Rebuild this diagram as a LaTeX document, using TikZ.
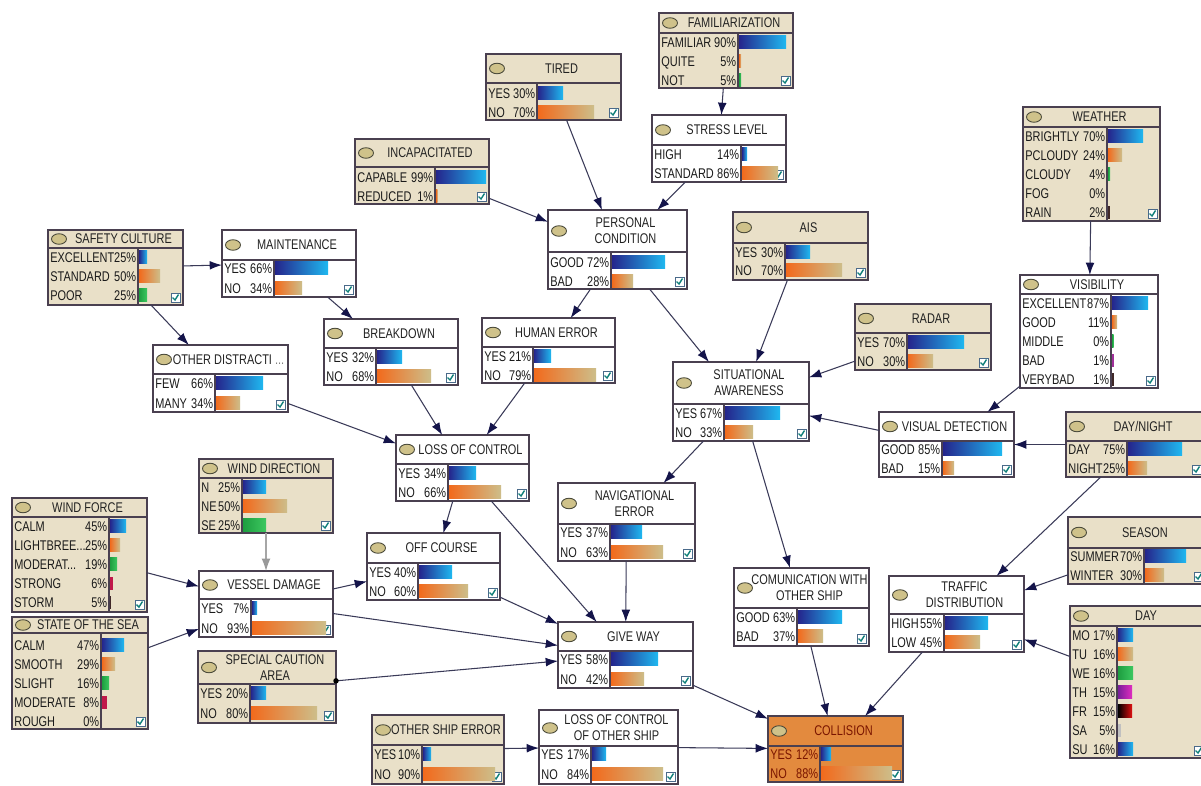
\documentclass[tikz,border=0pt]{standalone}
\usepackage{fontspec}
\setmainfont{Liberation Sans}[FakeStretch=0.78]
\usetikzlibrary{arrows.meta}
\definecolor{beige}{HTML}{E9E0C8}
\definecolor{framec}{HTML}{4A4050}
\definecolor{ovalc}{HTML}{CFC28A}
\definecolor{ovald}{HTML}{4A4A3A}
\definecolor{titlec}{HTML}{222222}
\definecolor{labc}{HTML}{1A1A1A}
\definecolor{bl1}{HTML}{25258C}
\definecolor{bl2}{HTML}{1FB8F0}
\definecolor{or1}{HTML}{F26A1C}
\definecolor{or2}{HTML}{CDBE8A}
\definecolor{gr1}{HTML}{1E9E40}
\definecolor{gr2}{HTML}{3CC860}
\definecolor{redc}{HTML}{C0184A}
\definecolor{darkc}{HTML}{402828}
\definecolor{purc}{HTML}{A0309A}
\definecolor{mag1}{HTML}{7A1E9A}
\definecolor{mag2}{HTML}{E02CC0}
\definecolor{frc}{HTML}{E01010}
\definecolor{graybar}{HTML}{C0C0C0}
\definecolor{colfill}{HTML}{E38A3E}
\definecolor{colt}{HTML}{7A1500}
\definecolor{chkc}{HTML}{4A6A8A}
\definecolor{chk}{HTML}{10807A}
\definecolor{edgec}{HTML}{3A3A58}
\definecolor{tipc}{HTML}{14144A}
\tikzset{
  bnframe/.style={draw=framec, line width=0.7pt, inner sep=0pt, outer sep=0pt, rectangle},
  bnline/.style={draw=framec, line width=0.6pt},
  bntitle/.style={font=\fontsize{8}{9}\selectfont, align=center, text=titlec, inner sep=0pt},
  bnlab/.style={font=\fontsize{8}{9}\selectfont, inner sep=0pt, text=labc},
  arr/.style={draw=edgec, line width=0.6pt, -{Latex[length=7pt,width=5pt,color=tipc]}},
  grayarr/.style={draw=gray!70, line width=0.7pt, -{Latex[length=7pt,width=5pt,color=gray!80]}},
  blueb/.style={left color=bl1, middle color=bl1!75!bl2, right color=bl2},
  orb/.style={left color=or1, right color=or2},
  grb/.style={left color=gr1, right color=gr2},
  redb/.style={fill=redc},
  darkb/.style={fill=darkc},
  purb/.style={fill=purc},
  magb/.style={left color=mag1, right color=mag2},
  frb/.style={left color=black, right color=frc},
  grayb/.style={fill=graybar},
}
% name, x1, y1, x2, y2, header bottom, divider x, fill, title
\newcommand\BNbox[9]{%
  \pgfmathsetmacro\bnw{(#4-#2)*0.02}%
  \pgfmathsetmacro\bnh{(#5-#3)*0.02}%
  \node[bnframe, fill=#8, minimum width=\bnw cm, minimum height=\bnh cm, anchor=north west] (#1) at (#2,#3) {};
  \draw[bnline] (#2,#6) -- (#4,#6) (#7,#6) -- (#7,#5);
  \filldraw[fill=ovalc, draw=ovald, line width=0.5pt] ({#2+11},{(#3+#6)/2}) ellipse [x radius=0.15cm, y radius=0.105cm];
  \node[bntitle] at ({(#2+#4)/2+8},{(#3+#6)/2}) {#9};
  \filldraw[fill=white, draw=chkc, line width=0.5pt] ({#4-12},{#5-12}) rectangle ({#4-3},{#5-3});
  \draw[chk, line width=0.8pt] ({#4-10.5},{#5-7.5}) -- ({#4-8},{#5-5}) -- ({#4-4.5},{#5-10.5});
}
% x1, divider, y, label, pct, bar end, bar style
\newcommand\BNrow[7]{%
  \node[bnlab, anchor=base west] at ({#1+2},{#3+5}) {#4};
  \node[bnlab, anchor=base east] at ({#2-1.5},{#3+5}) {#5};
  \ifdim #6pt>#2pt \path[#7] ({#2+1},{#3-6.5}) rectangle (#6,{#3+6.5}); \fi
}
\begin{document}
\begin{tikzpicture}[x=0.02cm,y=-0.02cm]
\useasboundingbox (0,0) rectangle (1201,785);
\clip (0,0) rectangle (1201,785);
\fill[white] (0,0) rectangle (1201,785);

% FAMILIARIZATION
\BNbox{fam}{659}{13}{793}{88}{33}{738}{beige}{FAMILIARIZATION}
\BNrow{659}{738}{42}{FAMILIAR}{90\%}{786}{blueb}
\BNrow{659}{738}{61}{QUITE}{5\%}{741}{orb}
\BNrow{659}{738}{80}{NOT}{5\%}{741}{grb}
% TIRED
\BNbox{tired}{486}{54}{621}{120}{83}{537}{beige}{TIRED}
\BNrow{486}{537}{93}{YES}{30\%}{563}{blueb}
\BNrow{486}{537}{112}{NO}{70\%}{594}{orb}
% INCAPACITATED
\BNbox{incap}{355}{139}{489}{204}{167}{435}{beige}{INCAPACITATED}
\BNrow{355}{435}{177}{CAPABLE}{99\%}{486}{blueb}
\BNrow{355}{435}{196}{REDUCED}{1\%}{437.5}{orb}
% STRESS LEVEL
\BNbox{stress}{652}{115}{786}{182}{145}{741}{white}{STRESS LEVEL}
\BNrow{652}{741}{154}{HIGH}{14\%}{747}{blueb}
\BNrow{652}{741}{173}{STANDARD}{86\%}{778}{orb}
% PERSONAL CONDITION
\BNbox{pc}{548}{210}{687}{289}{252}{611}{white}{PERSONAL\\CONDITION}
\BNrow{548}{611}{262}{GOOD}{72\%}{665}{blueb}
\BNrow{548}{611}{281}{BAD}{28\%}{633}{orb}
% AIS
\BNbox{ais}{733}{212}{868}{280}{243}{785}{beige}{AIS}
\BNrow{733}{785}{252}{YES}{30\%}{810}{blueb}
\BNrow{733}{785}{270}{NO}{70\%}{842}{orb}
% WEATHER
\BNbox{weather}{1023}{107}{1160}{221}{127}{1107}{beige}{WEATHER}
\BNrow{1023}{1107}{136}{BRIGHTLY}{70\%}{1143}{blueb}
\BNrow{1023}{1107}{155}{PCLOUDY}{24\%}{1122}{orb}
\BNrow{1023}{1107}{174}{CLOUDY}{4\%}{1110}{grb}
\BNrow{1023}{1107}{193}{FOG}{0\%}{0}{grb}
\BNrow{1023}{1107}{212}{RAIN}{2\%}{1109.5}{darkb}
% VISIBILITY
\BNbox{vis}{1020}{275}{1158}{388}{294}{1111}{white}{VISIBILITY}
\BNrow{1020}{1111}{303}{EXCELLENT}{87\%}{1148}{blueb}
\BNrow{1020}{1111}{322}{GOOD}{11\%}{1117}{orb}
\BNrow{1020}{1111}{341}{MIDDLE}{0\%}{1113.5}{grb}
\BNrow{1020}{1111}{360}{BAD}{1\%}{1113.5}{purb}
\BNrow{1020}{1111}{379}{VERYBAD}{1\%}{1113.5}{darkb}
% RADAR
\BNbox{radar}{855}{304}{991}{370}{333}{907}{beige}{RADAR}
\BNrow{855}{907}{342}{YES}{70\%}{964}{blueb}
\BNrow{855}{907}{361}{NO}{30\%}{933}{orb}
% VISUAL DETECTION
\BNbox{vd}{879}{412}{1014}{477}{441}{942}{white}{VISUAL DETECTION}
\BNrow{879}{942}{449}{GOOD}{85\%}{1002}{blueb}
\BNrow{879}{942}{468}{BAD}{15\%}{954}{orb}
% DAY/NIGHT
\BNbox{dn}{1066}{412}{1204}{477}{441}{1127}{beige}{DAY/NIGHT}
\BNrow{1066}{1127}{449}{DAY}{75\%}{1182}{blueb}
\BNrow{1066}{1127}{468}{NIGHT}{25\%}{1147}{orb}
% SAFETY CULTURE
\BNbox{sc}{48}{230}{183}{305}{248}{138}{beige}{SAFETY CULTURE}
\BNrow{48}{138}{257}{EXCELLENT}{25\%}{147}{blueb}
\BNrow{48}{138}{276}{STANDARD}{50\%}{160}{orb}
\BNrow{48}{138}{295}{POOR}{25\%}{147}{grb}
% MAINTENANCE
\BNbox{maint}{222}{230}{356}{297}{260}{274}{white}{MAINTENANCE}
\BNrow{222}{274}{268}{YES}{66\%}{328}{blueb}
\BNrow{222}{274}{288}{NO}{34\%}{302}{orb}
% OTHER DISTRACTI
\BNbox{od}{153}{345}{288}{412}{374}{215}{white}{OTHER DISTRACTI {\color{gray}...}}
\BNrow{153}{215}{383}{FEW}{66\%}{263}{blueb}
\BNrow{153}{215}{403}{MANY}{34\%}{240}{orb}
% BREAKDOWN
\BNbox{bd}{324}{319}{458}{385}{348}{376}{white}{BREAKDOWN}
\BNrow{324}{376}{357}{YES}{32\%}{402}{blueb}
\BNrow{324}{376}{376}{NO}{68\%}{431}{orb}
% HUMAN ERROR
\BNbox{he}{482}{318}{615}{383}{347}{533}{white}{HUMAN ERROR}
\BNrow{482}{533}{356}{YES}{21\%}{551}{blueb}
\BNrow{482}{533}{375}{NO}{79\%}{596}{orb}
% SITUATIONAL AWARENESS
\BNbox{sa}{673}{362}{809}{441}{404}{724}{white}{SITUATIONAL\\AWARENESS}
\BNrow{673}{724}{413}{YES}{67\%}{780}{blueb}
\BNrow{673}{724}{432}{NO}{33\%}{753}{orb}
% LOSS OF CONTROL
\BNbox{loc}{396}{435}{529}{501}{464}{448}{white}{LOSS OF CONTROL}
\BNrow{396}{448}{473}{YES}{34\%}{476}{blueb}
\BNrow{396}{448}{492}{NO}{66\%}{501}{orb}
% NAVIGATIONAL ERROR
\BNbox{ne}{558}{483}{695}{561}{524}{610}{white}{NAVIGATIONAL\\ERROR}
\BNrow{558}{610}{532}{YES}{37\%}{642}{blueb}
\BNrow{558}{610}{552}{NO}{63\%}{663}{orb}
% OFF COURSE
\BNbox{oc}{367}{533}{500}{600}{563}{418}{white}{OFF COURSE}
\BNrow{367}{418}{572}{YES}{40\%}{452}{blueb}
\BNrow{367}{418}{591}{NO}{60\%}{468}{orb}
% GIVE WAY
\BNbox{gw}{558}{622}{693}{688}{651}{610}{white}{GIVE WAY}
\BNrow{558}{610}{659}{YES}{58\%}{658}{blueb}
\BNrow{558}{610}{679}{NO}{42\%}{644}{orb}
% OTHER SHIP ERROR
\BNbox{ose}{372}{715}{504}{784}{745}{422}{beige}{OTHER SHIP ERROR}
\BNrow{372}{422}{754}{YES}{10\%}{431}{blueb}
\BNrow{372}{422}{774}{NO}{90\%}{495}{orb}
% LOSS OF CONTROL OF OTHER SHIP
\BNbox{locos}{539}{710}{678}{784}{746}{591}{white}{LOSS OF CONTROL\\OF OTHER SHIP}
\BNrow{539}{591}{754}{YES}{17\%}{606}{blueb}
\BNrow{539}{591}{774}{NO}{84\%}{663}{orb}
% WIND DIRECTION
\BNbox{wd}{199}{459}{333}{533}{478}{242}{beige}{WIND DIRECTION}
\BNrow{199}{242}{487}{N}{25\%}{266}{blueb}
\BNrow{199}{242}{506}{NE}{50\%}{287}{orb}
\BNrow{199}{242}{525}{SE}{25\%}{266}{grb}
% WIND FORCE
\BNbox{wf}{12}{498}{147}{612}{517}{109}{beige}{WIND FORCE}
\BNrow{12}{109}{526}{CALM}{45\%}{126}{blueb}
\BNrow{12}{109}{545}{LIGHTBREE...}{25\%}{120}{orb}
\BNrow{12}{109}{564}{MODERAT...}{19\%}{117}{grb}
\BNrow{12}{109}{583}{STRONG}{6\%}{112.5}{redb}
\BNrow{12}{109}{602}{STORM}{5\%}{111}{darkb}
% STATE OF THE SEA
\BNbox{sea}{12}{617}{148}{729}{633}{101}{beige}{STATE OF THE SEA}
\BNrow{12}{101}{645}{CALM}{47\%}{124}{blueb}
\BNrow{12}{101}{664}{SMOOTH}{29\%}{115}{orb}
\BNrow{12}{101}{683}{SLIGHT}{16\%}{109}{grb}
\BNrow{12}{101}{702}{MODERATE}{8\%}{107}{redb}
\BNrow{12}{101}{721}{ROUGH}{0\%}{0}{grb}
% VESSEL DAMAGE
\BNbox{vdam}{199}{571}{333}{637}{599}{251}{white}{VESSEL DAMAGE}
\BNrow{199}{251}{608}{YES}{7\%}{257}{blueb}
\BNrow{199}{251}{628}{NO}{93\%}{326}{orb}
% SPECIAL CAUTION AREA
\BNbox{sca}{198}{651}{336}{723}{684}{250}{beige}{SPECIAL CAUTION\\AREA}
\BNrow{198}{250}{693}{YES}{20\%}{266}{blueb}
\BNrow{198}{250}{713}{NO}{80\%}{317}{orb}
% COMUNICATION WITH OTHER SHIP
\BNbox{com}{734}{568}{869}{646}{608}{797}{white}{COMUNICATION WITH\\OTHER SHIP}
\BNrow{734}{797}{617}{GOOD}{63\%}{842}{blueb}
\BNrow{734}{797}{636}{BAD}{37\%}{823}{orb}
% TRAFFIC DISTRIBUTION
\BNbox{td}{889}{576}{1024}{652}{614}{944}{white}{TRAFFIC\\DISTRIBUTION}
\BNrow{889}{944}{623}{HIGH}{55\%}{988}{blueb}
\BNrow{889}{944}{642}{LOW}{45\%}{980}{orb}
% SEASON
\BNbox{season}{1068}{517}{1206}{584}{548}{1144}{beige}{SEASON}
\BNrow{1068}{1144}{556}{SUMMER}{70\%}{1186}{blueb}
\BNrow{1068}{1144}{575}{WINTER}{30\%}{1164}{orb}
% DAY
\BNbox{day}{1070}{606}{1206}{758}{626}{1117}{beige}{DAY}
\BNrow{1070}{1117}{635}{MO}{17\%}{1133}{blueb}
\BNrow{1070}{1117}{654}{TU}{16\%}{1133}{orb}
\BNrow{1070}{1117}{673}{WE}{16\%}{1133}{grb}
\BNrow{1070}{1117}{692}{TH}{15\%}{1132}{magb}
\BNrow{1070}{1117}{711}{FR}{15\%}{1132}{frb}
\BNrow{1070}{1117}{730}{SA}{5\%}{1121}{grayb}
\BNrow{1070}{1117}{749}{SU}{16\%}{1133}{blueb}
% COLLISION
\BNbox{col}{768}{716}{903}{782}{746}{820}{colfill}{{\color{colt}COLLISION}}
\BNrow{768}{820}{754}{\color{colt}YES}{\color{colt}12\%}{831}{blueb}
\BNrow{768}{820}{773}{\color{colt}NO}{\color{colt}88\%}{892}{orb}

% connectors
\draw[arr] (fam) -- (stress);
\draw[arr] (tired) -- (pc);
\draw[arr] (stress) -- (pc);
\draw[arr] (incap) -- (pc);
\draw[arr] (sc) -- (maint);
\draw[arr] (sc) -- (od);
\draw[arr] (maint) -- (bd);
\draw[arr] (pc) -- (he);
\draw[arr] (pc) -- (sa);
\draw[arr] (ais) -- (sa);
\draw[arr] (radar) -- (sa);
\draw[arr] (vd) -- (sa);
\draw[arr] (weather) -- (vis);
\draw[arr] (vis) -- (vd);
\draw[arr] (dn) -- (vd);
\draw[arr] (dn) -- (td);
\draw[arr] (season) -- (td);
\draw[arr] (day) -- (td);
\draw[arr] (bd) -- (loc);
\draw[arr] (he) -- (loc);
\draw[arr] (od) -- (loc);
\draw[arr] (sa) -- (ne);
\draw[arr] (sa) -- (com);
\draw[arr] (loc) -- (oc);
\draw[arr] (loc) -- (gw);
\draw[arr] (ne) -- (gw);
\draw[arr] (oc) -- (gw);
\draw[grayarr] (wd) -- (vdam);
\draw[arr] (wf) -- (vdam);
\draw[arr] (sea) -- (vdam);
\draw[arr] (vdam) -- (oc);
\draw[arr] (vdam) -- (gw);
\draw[arr] (sca) -- coordinate[pos=0] (scadot) (gw);
\fill[black] (scadot) circle[radius=0.055cm];
\draw[arr] (gw) -- (col);
\draw[arr] (com) -- (col);
\draw[arr] (td) -- (col);
\draw[arr] (ose) -- (locos);
\draw[arr] (locos) -- (col);
\end{tikzpicture}
\end{document}
